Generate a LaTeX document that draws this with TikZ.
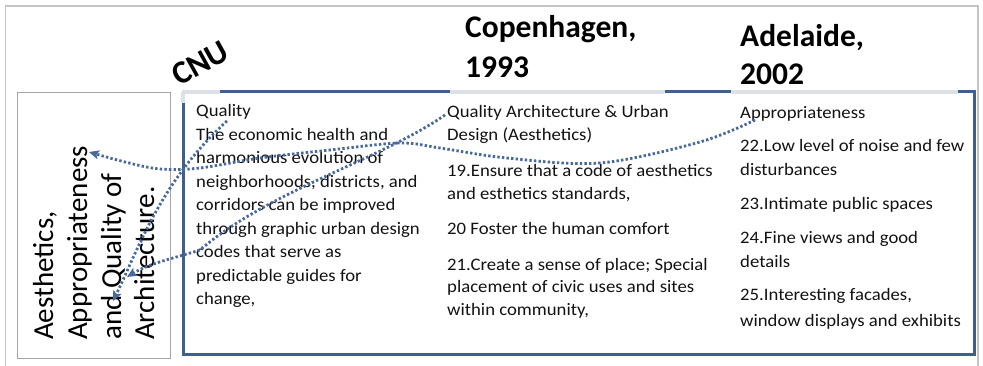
\documentclass[tikz,border=0pt]{standalone}
\usepackage{fontspec}
\setmainfont{Carlito}
\newfontfamily\bodyfont{Carlito}[FakeStretch=1.07]
\usetikzlibrary{arrows.meta}
\definecolor{framegray}{HTML}{C4C4C4}
\definecolor{boxgray}{HTML}{A6A6A6}
\definecolor{boxblue}{HTML}{3F5F8C}
\definecolor{boxlight}{HTML}{DCE1E8}
\definecolor{linkblue}{HTML}{48699A}
\definecolor{ink}{HTML}{121212}

\begin{document}
\begin{tikzpicture}[x=1pt,y=-1pt,
  bodyline/.style={font=\bodyfont\fontsize{17.5}{23.5}\selectfont, text=ink, anchor=base west, inner sep=0pt},
  headline/.style={font=\fontsize{31.5}{38}\selectfont\bfseries, text=black, anchor=base west, inner sep=0pt},
  vline/.style={font=\fontsize{29}{34}\selectfont, text=black, rotate=90, anchor=base west, inner sep=0pt},
  link/.style={linkblue, line width=2.8pt, line cap=butt, dash pattern=on 2.4pt off 2.2pt,
    -{Stealth[length=10pt,width=9pt,inset=2.2pt]}}
]
\useasboundingbox (0,0) rectangle (983,366);

% outer frame
\draw[framegray, line width=1.5pt] (5.5,6) rectangle (978,372);

% left summary box
\draw[boxgray, line width=0.8pt] (17,92) rectangle (170,358);
\node[vline] (v1) at (53,340) {Aesthetics,};
\node[vline] (v2) at (87,340) {Appropriateness};
\node[vline] (v3) at (121,340) {and Quality of};
\node[vline] (v4) at (154,340) {Architecture.};

% main comparison box
\draw[boxblue, line width=3pt] (183,92) rectangle (974,354);
\draw[boxlight, line width=3.2pt] (181.5,92) -- (220,92);
\draw[boxlight, line width=3.2pt] (183,92) -- (183,103);
\draw[boxlight, line width=3.2pt] (450,92) -- (665,92);
\draw[boxlight, line width=3.2pt] (731,92) -- (958,92);

% column headings
\node[headline, font=\fontsize{32.5}{38}\selectfont\bfseries, rotate=29] (hcnu) at (179,87) {CNU};
\node[headline] (hcop1) at (465,38) {Copenhagen,};
\node[headline] (hcop2) at (465,78) {1993};
\node[headline] (hade1) at (740,47) {Adelaide,};
\node[headline] (hade2) at (740,85) {2002};

% CNU column
\foreach \i/\yy/\txt in {1/117/{Quality},
  2/140.5/{The economic health and},
  3/164/{harmonious evolution of},
  4/187.5/{neighborhoods, districts, and},
  5/211/{corridors can be improved},
  6/234.5/{through graphic urban design},
  7/258/{codes that serve as},
  8/281.5/{predictable guides for},
  9/305/{change,}}
  \node[bodyline] (a\i) at (196,\yy) {\txt};

% Copenhagen column
\foreach \i/\yy/\txt in {1/118/{Quality Architecture \& Urban},
  2/141/{Design (Aesthetics)},
  3/177/{19.Ensure that a code of aesthetics},
  4/200/{and esthetics standards,},
  5/235/{20 Foster the human comfort},
  6/270/{21.Create a sense of place; Special},
  7/293/{placement of civic uses and sites},
  8/316/{within community,}}
  \node[bodyline] (b\i) at (447,\yy) {\txt};

% Adelaide column
\foreach \i/\yy/\txt in {1/119/{Appropriateness},
  2/152/{22.Low level of noise and few},
  3/176/{disturbances},
  4/210/{23.Intimate public spaces},
  5/244/{24.Fine views and good},
  6/268/{details},
  7/301/{25.Interesting facades,},
  8/326/{window displays and exhibits}}
  \node[bodyline] (c\i) at (740,\yy) {\txt};

% link end points
\coordinate (sQ) at (227,121);
\coordinate (sQA) at (445,115);
\coordinate (sAp) at (755,120);
\coordinate (tQ) at (113,301);
\coordinate (tQA) at (127,277);
\coordinate (tAp) at (89,152);

% dotted links into the summary box
\draw[link] (sQ) .. controls (160,182) and (138,250) .. (tQ);
\draw[link] (sQA) .. controls (380,160) and (270,190) .. (200,250)
  .. controls (175,258) and (150,263) .. (tQA);
\draw[link] plot[smooth, tension=0.55] coordinates {(sAp) (700,142) (600,163) (507,158) (440,148) (400,143) (330,150) (260,158) (200,168) (160,169) (125,162) (tAp)};
\end{tikzpicture}
\end{document}
